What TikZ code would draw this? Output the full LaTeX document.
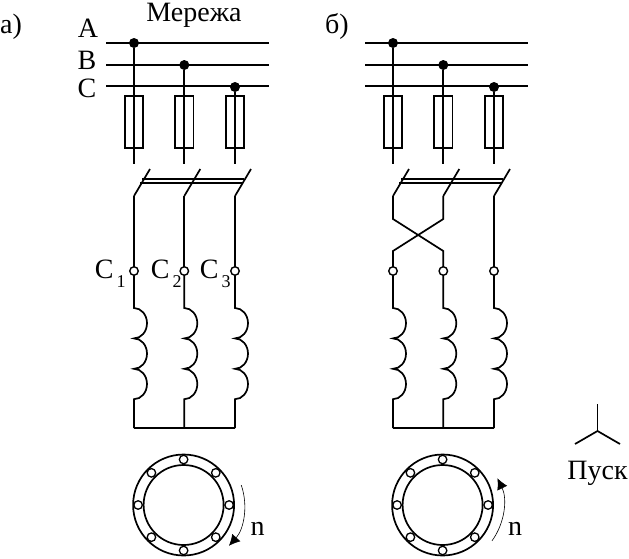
\documentclass[tikz,border=0pt]{standalone}
\usepackage{fontspec}
\setmainfont{Liberation Serif}
\usetikzlibrary{arrows.meta}
\newcommand{\lowidx}[1]{\kern3pt\raisebox{-9pt}{\fontsize{18}{18}\selectfont #1}}
\begin{document}
\begin{tikzpicture}[x=1pt,y=-1pt,line width=1.7pt,
    txt/.style={font=\fontsize{28}{30}\selectfont,inner sep=0pt,anchor=base},
    bullet/.style={circle,fill=black,draw=none,minimum size=10pt,inner sep=0pt,outer sep=0pt},
    terminal/.style={circle,draw,fill=white,minimum size=8.5pt,inner sep=0pt,outer sep=0pt,line width=1.4pt},
    fuse/.style={rectangle,draw,minimum width=18.5pt,minimum height=52pt,inner sep=0pt,outer sep=0pt},
    slot/.style={circle,draw,fill=white,minimum size=8.5pt,inner sep=0pt,outer sep=0pt,line width=1.3pt},
    ringline/.style={circle,draw,inner sep=0pt,outer sep=0pt},
    spin/.style={line width=0.6pt,-{Latex[length=11pt,width=11pt]}}]
    \useasboundingbox (0,0) rectangle (629,558);
    \foreach \p/\X [
        evaluate = \X as \B using {\X + 50.3},
        evaluate = \X as \C using {\X + 101},
        evaluate = \X as \R using {\X + 49.6}
        ] in {l/134, r/393}{
        % bus
        \coordinate (busAs\p) at (\X - 28,43);
        \coordinate (busAe\p) at (\X + 135,43);
        \coordinate (busBs\p) at (\X - 28,65);
        \coordinate (busBe\p) at (\X + 135,65);
        \coordinate (busCs\p) at (\X - 28,86);
        \coordinate (busCe\p) at (\X + 135,86);
        \draw (busAs\p) -- (busAe\p);
        \draw (busBs\p) -- (busBe\p);
        \draw (busCs\p) -- (busCe\p);
        \foreach \i/\x/\y in {1/\X/43, 2/\B/65, 3/\C/87}{
            \node[bullet] (dot\p\i) at (\x,\y) {};
            \node[fuse] (fuse\p\i) at (\x,122) {};
            \coordinate (top\p\i) at (\x,164);
            \coordinate (bot\p\i) at (\x,196);
            \coordinate (tip\p\i) at (\x + 16,169);
            \node[terminal] (term\p\i) at (\x,271) {};
            \coordinate (coil\p\i) at (\x,308);
            \coordinate (rail\p\i) at (\x,428);
            \draw (dot\p\i) -- (top\p\i);
            \draw (bot\p\i) -- (tip\p\i);
            \draw (term\p\i) -- (coil\p\i)
                arc[start angle=90,end angle=-90,x radius=13pt,y radius=15.2pt]
                arc[start angle=90,end angle=-90,x radius=13pt,y radius=15.2pt]
                arc[start angle=90,end angle=-90,x radius=13pt,y radius=15.2pt]
                -- (rail\p\i);
        };
        \coordinate (linkUs\p) at (\X + 8,179);
        \coordinate (linkUe\p) at (\C + 9,179);
        \coordinate (linkDs\p) at (\X + 6,183);
        \coordinate (linkDe\p) at (\C + 7,183);
        \draw[line width=1.3pt] (linkUs\p) -- (linkUe\p);
        \draw[line width=1.3pt] (linkDs\p) -- (linkDe\p);
        \draw (rail\p1) -- (rail\p3);
        % stator
        \coordinate (ring\p) at (\R,505);
        \node[ringline,minimum size=101pt] (outer\p) at (ring\p) {};
        \node[ringline,minimum size=80pt] (inner\p) at (ring\p) {};
        \foreach \a in {0,45,...,315}{
            \node[slot] (slot\p\a) at ([shift={(\a:45.5pt)}]ring\p) {};
        };
    };
    % a) straight, b) crossed
    \draw (botl1) -- (terml1);
    \draw (botl2) -- (terml2);
    \draw (botl3) -- (terml3);
    \coordinate (crAu) at (393,219);
    \coordinate (crBu) at (443.3,219);
    \coordinate (crAd) at (393,251);
    \coordinate (crBd) at (443.3,251);
    \draw (botr1) -- (crAu) -- (crBd) -- (termr2);
    \draw (botr2) -- (crBu) -- (crAd) -- (termr1);
    \draw (botr3) -- (termr3);
    % rotation
    \coordinate (spinl) at ([shift={(19:61pt)}]ringl);
    \coordinate (spinr) at ([shift={(-36:61pt)}]ringr);
    \draw[spin] (spinl) arc[start angle=19,end angle=-42,radius=61pt];
    \draw[spin] (spinr) arc[start angle=-36,end angle=26,radius=61pt];
    \node[txt] (nl) at (257.5,535) {n};
    \node[txt] (nr) at (515,535) {n};
    % labels
    \node[txt] (mains) at (194,21) {Мережа};
    \node[txt] (capa) at (11,33) {а)};
    \node[txt] (capb) at (337,33) {б)};
    \node[txt] (lblA) at (88,37.5) {A};
    \node[txt] (lblB) at (87,69) {B};
    \node[txt] (lblC) at (87,97) {C};
    \node[txt,anchor=base west] (lblC1) at (94,278) {C\lowidx{1}};
    \node[txt,anchor=base west] (lblC2) at (150,278) {C\lowidx{2}};
    \node[txt,anchor=base west] (lblC3) at (199,278) {C\lowidx{3}};
    % start
    \coordinate (star) at (597.5,431);
    \coordinate (starT) at (597.5,404);
    \coordinate (starL) at (575,444);
    \coordinate (starR) at (620,444);
    \draw (star) -- (starT);
    \draw (star) -- (starL);
    \draw (star) -- (starR);
    \node[txt] (start) at (597.5,479) {Пуск};
\end{tikzpicture}
\end{document}
